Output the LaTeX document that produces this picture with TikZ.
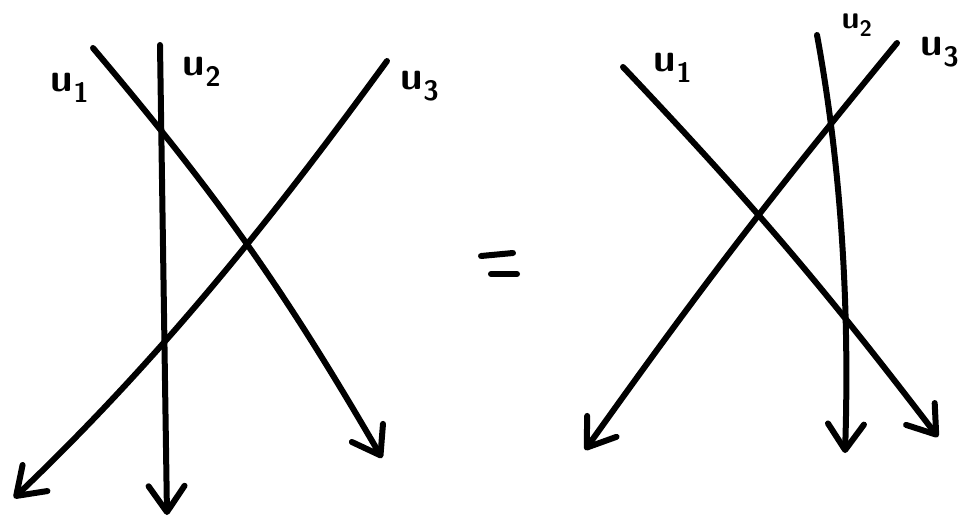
\documentclass[tikz,border=0pt]{standalone}
\usepackage{tikz}
\usetikzlibrary{arrows.meta}

\begin{document}
\begin{tikzpicture}[x=1pt,y=-1pt,
  strand/.style={line width=6pt,line cap=round,line join=round,
    -{Straight Barb[length=26pt,width=36pt,line cap=round,line join=round]}},
  pen/.style={line width=6pt,line cap=round},
  lab/.style={font=\fontsize{40}{44}\selectfont\sffamily\bfseries,inner sep=0pt}]
\useasboundingbox (0,0) rectangle (968,524);
% left side
\coordinate (la1) at (93,48);  \coordinate (lb1) at (382,458);
\coordinate (la2) at (160,45); \coordinate (lb2) at (167,515);
\coordinate (la3) at (387,61); \coordinate (lb3) at (14,498);
\draw[strand] (la1) to[bend left=5] (lb1);
\draw[strand] (la2) -- (lb2);
\draw[strand] (la3) .. controls (300,180) and (180,340) .. (lb3);
\node[lab] (lu1) at (70,88) {u\textsubscript{1}};
\node[lab] (lu2) at (202,72) {u\textsubscript{2}};
\node[lab] (lu3) at (420,86) {u\textsubscript{3}};
% equals
\draw[pen] (481,256) -- (513,253);
\draw[pen] (491,274) -- (517,274);
% right side
\coordinate (ra1) at (623,67);  \coordinate (rb1) at (938,437);
\coordinate (ra2) at (817,35);  \coordinate (rb2) at (845,453);
\coordinate (ra3) at (897,43);  \coordinate (rb3) at (585,450);
\draw[strand] (ra1) to[bend left=3] (rb1);
\draw[strand] (ra2) .. controls (840,160) and (850,300) .. (rb2);
\draw[strand] (ra3) to[bend right=2] (rb3);
\node[lab] (ru1) at (673,68) {u\textsubscript{1}};
\node[lab,font=\fontsize{32}{36}\selectfont\sffamily\bfseries] (ru2) at (857,25) {u\textsubscript{2}};
\node[lab] (ru3) at (940,52) {u\textsubscript{3}};
\end{tikzpicture}
\end{document}
